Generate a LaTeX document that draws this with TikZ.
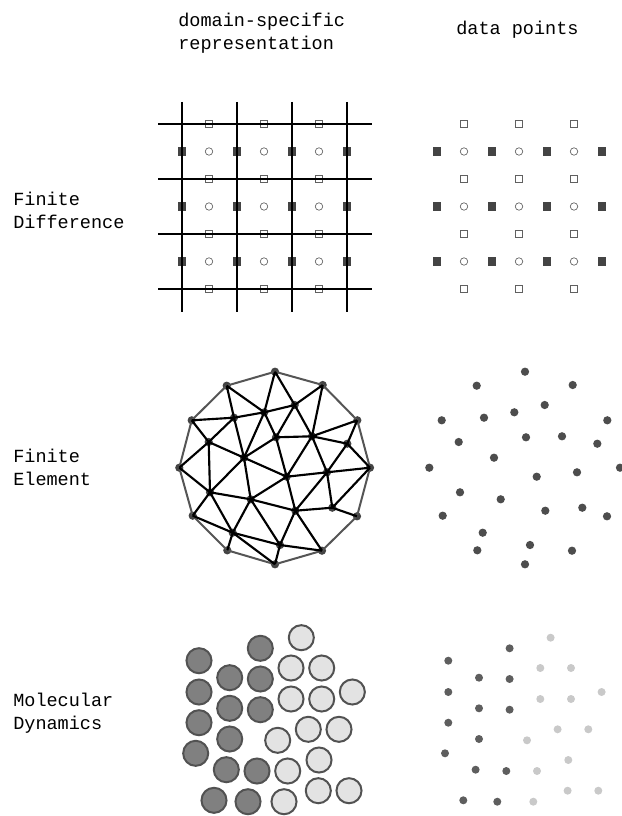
\documentclass[tikz,border=0pt]{standalone}
\usepackage{fontspec}
\setmonofont{Liberation Mono}
\definecolor{dk}{HTML}{444444}
\definecolor{rim}{HTML}{555555}
\definecolor{mk}{HTML}{606060}
\tikzset{
  lab/.style={font=\ttfamily\fontsize{13.9}{17.25}\selectfont,align=left,inner sep=0pt,anchor=west},
  fsq/.style={rectangle,draw=none,fill=dk,minimum size=6.4pt,inner sep=0pt},
  osq/.style={rectangle,draw=mk,line width=0.5pt,fill=none,minimum size=5.6pt,inner sep=0pt},
  ocirc/.style={circle,draw=mk,line width=0.5pt,fill=white,minimum size=5.6pt,inner sep=0pt},
  gridline/.style={draw=black,line width=1.5pt},
  femdot/.style={circle,fill=dk,draw=none,minimum size=6.2pt,inner sep=0pt},
  ptdot/.style={circle,fill=dk!95,draw=none,minimum size=6.2pt,inner sep=0pt},
  meshedge/.style={draw=black,line width=1.6pt},
  rimedge/.style={draw=rim,line width=1.5pt},
  darkmol/.style={circle,draw=black!68,line width=1.5pt,fill=black!50,minimum size=18.8pt,inner sep=0pt},
  lightmol/.style={circle,draw=black!68,line width=1.5pt,fill=black!11,minimum size=18.8pt,inner sep=0pt},
  darkpt/.style={circle,fill=black!63,draw=none,minimum size=6pt,inner sep=0pt},
  lightpt/.style={circle,fill=black!21,draw=none,minimum size=6pt,inner sep=0pt},
}
\begin{document}
\begin{tikzpicture}[x=0.75pt,y=-0.75pt]
\useasboundingbox (0,0) rectangle (621,816);
% labels
\node[lab] (h1) at (178,33) {domain-specific\\representation};
\node[lab] (h2) at (456,30) {data points};
\node[lab] (l1) at (13,210.5) {Finite\\Difference};
\node[lab] (l2) at (13,467) {Finite\\Element};
\node[lab] (l3) at (13,713.5) {Molecular\\Dynamics};
% finite difference
\foreach \x in {0,55,110}{
  \foreach \y in {124,179,234,289}{
    \node[osq] (sa\x-\y) at (209+\x,\y) {};
    \node[osq] (sb\x-\y) at (464+\x,\y) {};
  }
  \foreach \y in {151.5,206.5,261.5}{
    \node[ocirc] (ca\x-\y) at (209+\x,\y) {};
    \node[ocirc] (cb\x-\y) at (464+\x,\y) {};
  }
}
\foreach \x in {0,55,110,165}{
  \foreach \y in {151.5,206.5,261.5}{
    \node[fsq] (fa\x-\y) at (182+\x,\y) {};
    \node[fsq] (fb\x-\y) at (437+\x,\y) {};
  }
  \coordinate (vt\x) at (182+\x,102);
  \coordinate (vb\x) at (182+\x,312);
  \draw[gridline] (vt\x) -- (vb\x);
}
\foreach \y in {124,179,234,289}{
  \coordinate (hl\y) at (158,\y);
  \coordinate (hr\y) at (372,\y);
  \draw[gridline] (hl\y) -- (hr\y);
}
% finite element nodes
\foreach \n/\x/\y in {
  T/275/371.7,NE/322.7/385,Ra/357.3/420.3,Rb/370/467.7,Rc/357/516.3,BR/322/550.7,
  B/275/564.3,BL/227.3/550.3,W/192.7/515.7,L/179.3/467.7,La/191.7/420.3,TL/226.7/385.7,
  a/234/417.7,b/264.3/412.3,c/294.7/405,d/208.7/442,e/276/437.3,f/312/436.3,g/347.3/443.7,
  h/244/457.7,i/286.7/476.7,j/327/472.3,k/210/492.3,l/250.7/499.3,m/295.3/510.7,
  n/332.3/507.7,o/232.7/532.7,p/280/545}{
  \node[femdot] (\n) at (\x,\y) {};
  \node[ptdot] (q\n) at (\x+250,\y) {};
}
\foreach \u/\v in {T/NE,NE/Ra,Ra/Rb,Rb/Rc,Rc/BR,BR/B,B/BL,BL/W,W/L,L/La,La/TL,TL/T}
  \draw[rimedge] (\u.center) -- (\v.center);
\foreach \u/\v in {T/b,T/c,NE/c,NE/f,TL/a,TL/b,La/a,La/d,a/b,b/c,a/d,a/h,b/h,b/e,c/e,c/f,
  e/f,e/h,e/i,f/Ra,f/j,f/i,g/Ra,g/Rb,g/j,f/g,j/Rb,j/i,j/m,j/n,n/Rb,n/Rc,n/m,m/i,m/l,m/p,m/BR,
  p/BR,p/l,p/o,p/B,o/B,o/BL,o/k,o/l,o/W,k/W,k/L,k/d,k/h,k/l,d/L,d/h,h/i,h/l,i/l}
  \draw[meshedge] (\u.center) -- (\v.center);
% molecular dynamics
\foreach \n/\x/\y in {1/260.3/648.3,2/199/660.7,3/229.7/677.7,4/260.3/679,5/199/692,6/229.7/708.3,
  7/260.3/709.7,8/199/722.7,9/229.7/739,10/195.7/753.3,11/226.3/769.7,12/257/771,13/214/800.3,14/248/801.7}{
  \node[darkmol] (dm\n) at (\x,\y) {};
  \node[darkpt] (dp\n) at (\x+249.3,\y) {};
}
\foreach \n/\x/\y in {1/301.3/637.7,2/291/668,3/321.7/668,4/291/699,5/321.7/699,6/352.3/692,
  7/308.3/729.3,8/339/729.3,9/277.7/740.3,10/319/760,11/287.7/771,12/318.3/790.7,13/349/790.7,14/284/801.7}{
  \node[lightmol] (lm\n) at (\x,\y) {};
  \node[lightpt] (lp\n) at (\x+249.3,\y) {};
}
\end{tikzpicture}
\end{document}
